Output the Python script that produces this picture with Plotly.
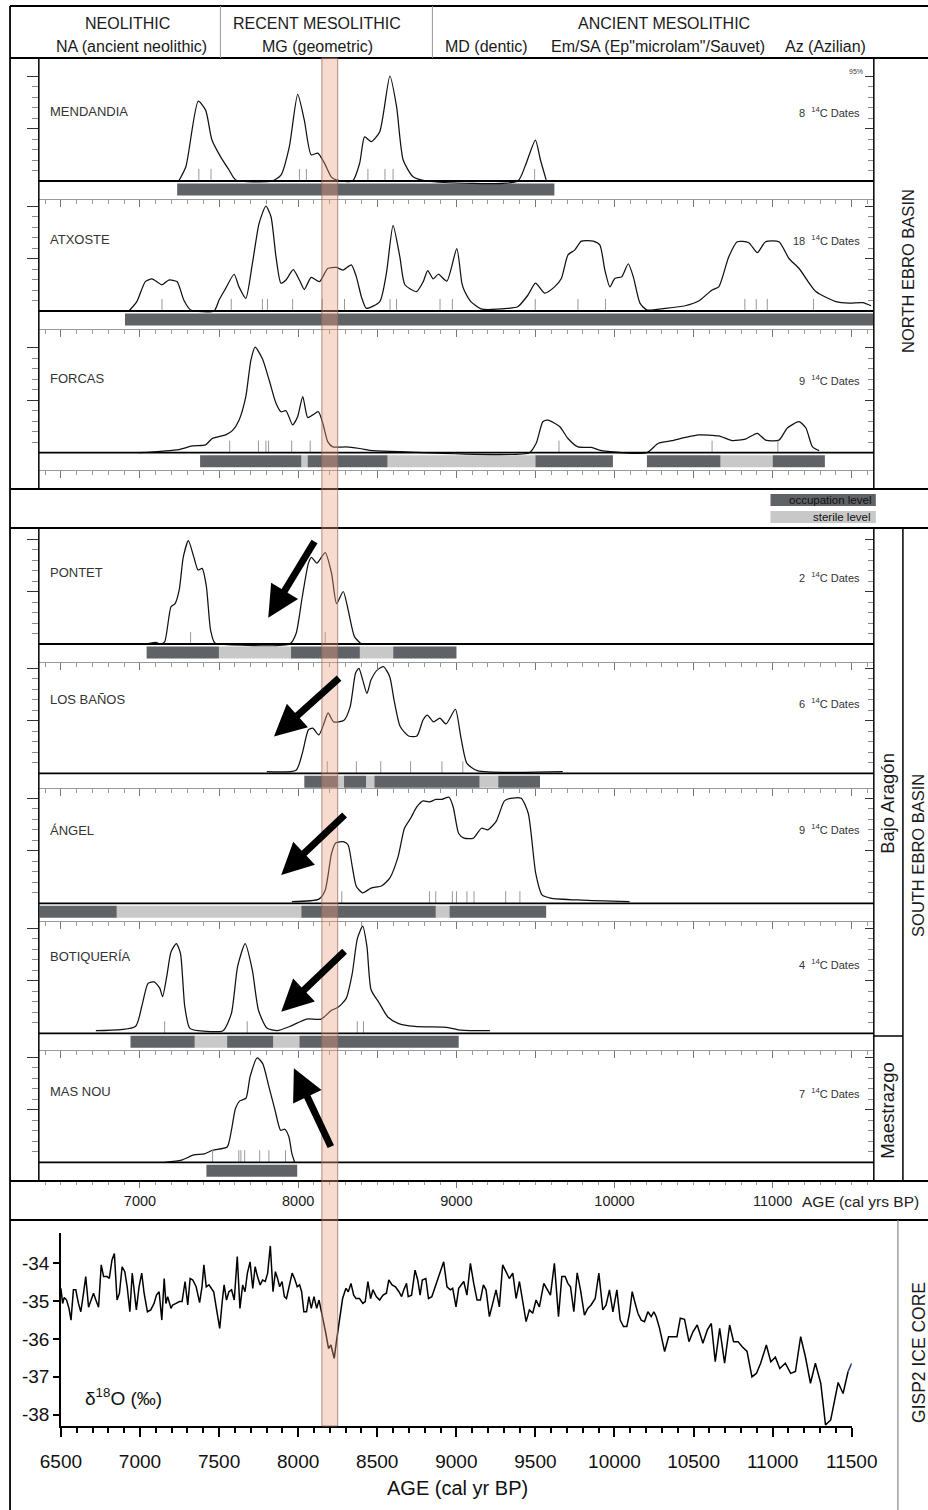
import plotly.graph_objects as go

# ======================= DATA =======================
SITES = ["MENDANDIA", "ATXOSTE", "FORCAS", "PONTET", "LOS BAÑOS", "ÁNGEL", "BOTIQUERÍA", "MAS NOU"]
N_DATES = [8, 18, 9, 2, 6, 9, 4, 7]

mendandia_age = [7245, 7290, 7368, 7415, 7455, 7510, 7563, 7605, 7836, 7891, 7944, 7997, 8039, 8082, 8124, 8166,
                 8209, 8241, 8344, 8389, 8420, 8463, 8516, 8580, 8622, 8664, 8727, 8813, 9388, 9437, 9500, 9532, 9568]
mendandia_prob = [0, 0.27, 1.52, 1.35, 0.78, 0.46, 0.21, 0.02, 0, 0.11, 0.65, 1.65, 1.16, 0.50, 0.53, 0.34,
                  0.08, 0.02, 0, 0.34, 0.84, 0.75, 0.94, 2.0, 1.42, 0.40, 0.08, 0, 0, 0.30, 0.78, 0.40, 0.02]
mendandia_dates = [7372, 7449, 8008, 8052, 8441, 8549, 8600, 9495]
mendandia_occ = [(7235, 9620)]
mendandia_ster = []

atxoste_age = [6930, 6980, 7034, 7076, 7139, 7182, 7234, 7277, 7320, 7468, 7500, 7542, 7595, 7626, 7669, 7711,
               7753, 7796, 7828, 7860, 7891, 7923, 7969, 8008, 8039, 8082, 8135, 8187, 8241, 8283, 8336, 8368,
               8400, 8431, 8516, 8558, 8600, 8643, 8675, 8749, 8791, 8819, 8854, 8886, 8940, 9003, 9035, 9049,
               9092, 9156, 9325, 9388, 9452, 9501, 9558, 9621, 9664, 9706, 9748, 9791, 9865, 9907, 9939, 9971,
               10002, 10045, 10087, 10119, 10161, 10204, 10320, 10447, 10532, 10617, 10659, 10722, 10776, 10849,
               10903, 10955, 11040, 11103, 11167, 11273, 11400, 11485, 11570, 11622]
atxoste_prob = [0, 0.18, 0.56, 0.61, 0.50, 0.59, 0.56, 0.21, 0.02, 0, 0.21, 0.43, 0.70, 0.46, 0.24, 0.91,
                1.67, 2.0, 1.80, 1.03, 0.53, 0.59, 0.79, 0.59, 0.41, 0.64, 0.56, 0.81, 0.83, 0.78, 0.88, 0.65,
                0.27, 0.05, 0.18, 0.72, 1.63, 1.03, 0.50, 0.37, 0.56, 0.77, 0.61, 0.70, 0.57, 1.19, 0.53, 0.40,
                0.18, 0.04, 0.05, 0.08, 0.30, 0.53, 0.34, 0.46, 0.62, 1.07, 1.16, 1.33, 1.33, 1.26, 0.78, 0.46,
                0.62, 0.65, 0.90, 0.65, 0.15, 0.02, 0.05, 0.10, 0.19, 0.40, 0.46, 1.03, 1.32, 1.30,
                1.11, 1.32, 1.32, 1.00, 0.81, 0.37, 0.18, 0.15, 0.16, 0.10]
atxoste_dates = [7139, 7577, 7774, 7806, 7965, 8152, 8293, 8581, 8622, 8897, 8975, 9499, 9769, 9943,
                 10824, 10896, 10966, 11258]
atxoste_occ = [(6905, 11635)]
atxoste_ster = []

forcas_age = [6990, 7245, 7330, 7415, 7457, 7542, 7584, 7626, 7669, 7701, 7728, 7774, 7817, 7860, 7891, 7923,
              7965, 7997, 8029, 8060, 8092, 8128, 8156, 8187, 8219, 8304, 8389, 8473, 8643, 9462, 9505, 9547,
              9579, 9653, 9706, 9769, 9854, 9918, 10204, 10277, 10363, 10447, 10532, 10659, 10744, 10828,
              10903, 10955, 11040, 11093, 11167, 11210, 11252, 11294]
forcas_prob = [0, 0.06, 0.13, 0.15, 0.27, 0.34, 0.42, 0.62, 1.07, 1.76, 2.01, 1.79, 1.38, 0.94, 0.78, 0.80,
               0.53, 0.69, 1.07, 0.67, 0.72, 0.78, 0.56, 0.21, 0.11, 0.11, 0.08, 0.04, 0.02, 0, 0.18, 0.59,
               0.62, 0.50, 0.27, 0.11, 0.10, 0.04, 0, 0.18, 0.23, 0.29, 0.34, 0.32, 0.23, 0.26,
               0.37, 0.24, 0.24, 0.47, 0.59, 0.47, 0.11, 0.04]
forcas_dates = [7567, 7749, 7796, 7813, 7959, 8076, 9649, 10617, 11033]
forcas_occ = [(7380, 8020), (8060, 8565), (9500, 9990), (10205, 10670), (11000, 11330)]
forcas_ster = [(8020, 8060), (8565, 9500), (10670, 11000)]

pontet_age = [7037, 7100, 7131, 7156, 7196, 7222, 7248, 7274, 7306, 7340, 7367, 7393, 7420, 7446, 7473, 7500,
              7947, 7987, 8026, 8065, 8084, 8118, 8171, 8211, 8243, 8285, 8316, 8356, 8395]
pontet_prob = [0, 0.03, 0, 0.04, 0.71, 0.77, 1.03, 1.66, 1.97, 1.66, 1.41, 1.44, 1.09, 0.27, 0.02, 0,
               0, 0.20, 0.90, 1.54, 1.65, 1.54, 1.74, 1.35, 0.77, 1.00, 0.65, 0.14, 0.01]
pontet_dates = [7320, 8171]
pontet_occ = [(7042, 7499), (7955, 8390), (8601, 9001)]
pontet_ster = [(7499, 7955), (8390, 8601)]

banos_age = [7802, 7987, 8026, 8065, 8092, 8131, 8163, 8189, 8224, 8290, 8329, 8363, 8384, 8408, 8435, 8461,
             8501, 8540, 8579, 8606, 8645, 8698, 8751, 8790, 8817, 8856, 8896, 8935, 8994, 9028, 9067, 9133, 9673]
banos_prob = [0.03, 0.06, 0.38, 0.83, 0.86, 0.73, 0.95, 1.15, 0.98, 1.01, 1.27, 1.91, 2.00, 1.78, 1.52, 1.78,
              1.97, 2.03, 1.84, 1.40, 0.89, 0.71, 0.71, 1.02, 1.11, 0.98, 1.05, 0.94, 1.22, 0.70, 0.19, 0.05, 0.03]
banos_dates = [8184, 8368, 8522, 8711, 8909, 9041]
banos_occ = [(8039, 8250), (8290, 8429), (8482, 9147), (9265, 9529)]
banos_ster = [(8250, 8290), (8429, 8482), (9147, 9265)]

angel_age = [7960, 8131, 8171, 8211, 8237, 8290, 8316, 8342, 8368, 8408, 8461, 8527, 8579, 8632, 8672, 8711,
             8751, 8790, 8830, 8870, 8909, 8954, 8980, 9015, 9049, 9107, 9159, 9199, 9252, 9304, 9344, 9410,
             9455, 9502, 9542, 9595, 9792, 10095]
angel_prob = [0.03, 0.08, 0.25, 0.95, 1.15, 1.17, 1.11, 0.70, 0.32, 0.20, 0.29, 0.33, 0.48, 0.89, 1.43, 1.62,
              1.84, 1.95, 1.93, 1.98, 1.98, 2.02, 1.84, 1.33, 1.24, 1.24, 1.43, 1.40, 1.56, 1.95, 2.00, 2.00,
              1.71, 0.57, 0.16, 0.10, 0.06, 0.03]
angel_dates = [8276, 8830, 8870, 8975, 9001, 9067, 9112, 9312, 9402]
angel_occ = [(6365, 6853), (8020, 8870), (8957, 9568)]
angel_ster = [(6853, 8020), (8870, 8957)]

botiq_age = [6721, 6971, 7011, 7051, 7090, 7125, 7143, 7169, 7196, 7230, 7256, 7283, 7314, 7367, 7525, 7578,
             7617, 7665, 7710, 7749, 7802, 7868, 7947, 8053, 8145, 8211, 8250, 8303, 8342, 8374, 8408, 8435,
             8461, 8514, 8567, 8632, 8738, 8948, 9028, 9212]
botiq_prob = [0.05, 0.13, 0.51, 0.95, 0.98, 0.86, 0.70, 1.08, 1.55, 1.71, 1.52, 0.51, 0.10, 0.05, 0.05, 0.38,
              1.27, 1.71, 1.21, 0.44, 0.10, 0.05, 0.13, 0.27, 0.27, 0.44, 0.49, 0.66, 1.14, 1.80, 2.04, 1.65,
              0.83, 0.57, 0.31, 0.19, 0.13, 0.11, 0.06, 0.05]
botiq_dates = [7156, 7678, 8374, 8413]
botiq_occ = [(6940, 7346), (7551, 7842), (8008, 9015)]
botiq_ster = [(7346, 7551), (7842, 8008)]

masnou_age = [7156, 7262, 7340, 7407, 7459, 7551, 7578, 7604, 7631, 7670, 7696, 7741, 7776, 7815, 7854, 7889,
              7915, 7941, 7960, 7978]
masnou_prob = [0, 0.04, 0.14, 0.16, 0.23, 0.29, 0.61, 1.03, 1.17, 1.22, 1.63, 1.99, 1.88, 1.44, 0.99, 0.61,
               0.63, 0.49, 0.17, 0]
masnou_dates = [7459, 7625, 7638, 7662, 7757, 7815, 7920]
masnou_occ = [(7420, 7994)]
masnou_ster = []

# GISP2 delta 18O
gisp2_age = [6500, 6511, 6521, 6536, 6551, 6564, 6579, 6594, 6611, 6626, 6643, 6657, 6675, 6692, 6706, 6721,
             6738, 6755, 6770, 6792, 6806, 6823, 6838, 6855, 6870, 6887, 6904, 6919, 6936, 6951, 6962, 6977,
             6994, 7011, 7026, 7047, 7068, 7089, 7104, 7121, 7138, 7153, 7164, 7175, 7196, 7206, 7228, 7249,
             7266, 7285, 7302, 7317, 7334, 7355, 7377, 7392, 7404, 7419, 7436, 7451, 7466, 7483, 7504, 7521,
             7532, 7547, 7562, 7579, 7596, 7615, 7632, 7649, 7664, 7679, 7696, 7713, 7728, 7743, 7760, 7775,
             7792, 7807, 7824, 7841, 7856, 7870, 7883, 7898, 7913, 7926, 7941, 7962, 7977, 7994, 8009, 8022,
             8036, 8053, 8068, 8083, 8100, 8117, 8132, 8147, 8160, 8175, 8192, 8207, 8228, 8243, 8260, 8281,
             8302, 8317, 8334, 8351, 8366, 8388, 8409, 8424, 8441, 8458, 8473, 8494, 8515, 8537, 8558, 8573,
             8594, 8615, 8637, 8654, 8668, 8685, 8696, 8717, 8739, 8756, 8771, 8785, 8807, 8824, 8845, 8866,
             8892, 8920, 8941, 8962, 8977, 8998, 9015, 9047, 9067, 9089, 9110, 9131, 9152, 9171, 9188, 9209,
             9230, 9251, 9272, 9293, 9314, 9335, 9357, 9378, 9399, 9420, 9441, 9462, 9483, 9504, 9525, 9553,
             9574, 9595, 9620, 9646, 9667, 9688, 9705, 9722, 9743, 9764, 9785, 9810, 9831, 9852, 9878, 9901,
             9926, 9947, 9968, 9990, 10015, 10036, 10057, 10078, 10095, 10112, 10131, 10148, 10169, 10190,
             10211, 10232, 10249, 10264, 10285, 10317, 10342, 10369, 10395, 10416, 10443, 10471, 10496, 10523,
             10559, 10587, 10612, 10637, 10665, 10696, 10728, 10753, 10781, 10806, 10838, 10869, 10897, 10924,
             10960, 10988, 11017, 11045, 11080, 11114, 11144, 11177, 11207, 11239, 11270, 11304, 11334, 11367,
             11414, 11445, 11477]
gisp2_d18o = [-34.66, -35.06, -34.90, -34.97, -35.19, -35.50, -34.70, -34.70, -35.06, -35.28, -34.79, -34.35,
              -35.16, -34.97, -34.79, -34.97, -35.16, -34.04, -34.35, -34.35, -34.40, -33.91, -33.74, -34.97,
              -34.79, -34.09, -34.22, -34.62, -35.28, -34.26, -34.62, -35.23, -34.62, -34.26, -34.79, -35.28,
              -35.23, -35.06, -34.84, -34.75, -35.50, -34.40, -35.06, -34.88, -35.19, -35.10, -35.06, -35.01,
              -35.01, -34.48, -35.10, -34.40, -34.44, -34.62, -35.04, -34.62, -34.04, -34.62, -34.57, -34.66,
              -34.75, -35.19, -35.72, -34.97, -34.57, -34.97, -34.75, -34.70, -34.97, -33.82, -35.19, -34.57,
              -34.75, -34.26, -33.96, -34.66, -34.09, -34.35, -34.57, -34.44, -34.48, -34.26, -33.54, -34.75,
              -34.22, -34.40, -34.62, -34.48, -34.88, -34.93, -34.62, -34.26, -34.40, -34.62, -34.57, -34.75,
              -35.28, -35.28, -34.88, -35.19, -34.88, -35.19, -34.97, -35.32, -35.54, -35.85, -36.25, -36.16,
              -36.51, -36.03, -35.50, -34.93, -34.66, -34.75, -34.53, -34.84, -34.93, -34.93, -35.06, -35.01,
              -34.48, -34.93, -34.70, -34.88, -34.97, -34.84, -34.79, -34.44, -34.57, -34.62, -34.75, -34.88,
              -34.70, -34.53, -34.88, -34.84, -34.18, -34.44, -34.84, -34.44, -34.40, -34.93, -34.88, -34.62,
              -34.26, -33.96, -34.62, -34.70, -34.66, -35.15, -34.66, -34.48, -34.84, -34.00, -34.53, -34.97,
              -34.97, -34.57, -34.70, -35.41, -35.06, -34.70, -35.15, -34.04, -34.22, -34.40, -34.26, -34.93,
              -34.48, -34.97, -35.54, -35.23, -35.32, -34.97, -35.15, -34.53, -34.70, -34.84, -34.00, -35.41,
              -34.35, -34.35, -34.53, -34.62, -35.28, -34.25, -34.70, -35.37, -35.19, -35.10, -34.93, -34.26,
              -35.23, -35.10, -34.70, -35.28, -34.70, -35.50, -35.67, -35.67, -35.32, -34.75, -35.06, -35.32,
              -35.50, -35.54, -35.28, -35.41, -35.28, -35.41, -35.72, -36.33, -35.94, -35.94, -35.94, -35.45,
              -35.48, -36.07, -35.81, -35.63, -36.11, -35.76, -35.59, -36.60, -35.72, -36.64, -35.63, -36.07,
              -36.07, -36.20, -36.33, -37.00, -36.91, -36.64, -36.16, -36.60, -36.48, -36.78, -36.64, -36.91,
              -36.86, -35.94, -36.47, -37.17, -36.64, -37.17, -38.27, -38.14, -37.15, -37.44, -36.86]
gisp2_tail_age = [11477, 11504]
gisp2_tail_d18o = [-36.86, -36.60]

PERIODS = ["NEOLITHIC", "RECENT MESOLITHIC", "ANCIENT MESOLITHIC"]
CULTURES = ["NA (ancient neolithic)", "MG (geometric)", "MD (dentic)",
            'Em/SA (Ep"microlam"/Sauvet)', "Az (Azilian)"]
EVENT_8200 = (8150, 8250)
UPPER_TICK_LABELS = [7000, 8000, 9000, 10000, 11000]
GISP2_YTICKS = [-34, -35, -36, -37, -38]
GISP2_XTICKS = [6500, 7000, 7500, 8000, 8500, 9000, 9500, 10000, 10500, 11000, 11500]

# arrows: (panel index, tail age, tail prob, head age, head prob)
ARROWS = [(4, 8109, 1.98, 7811, 0.50), (5, 8268, 1.84, 7847, 0.70), (6, 8303, 1.71, 7893, 0.54),
          (7, 8303, 1.59, 7893, 0.41), (8, 8211, 0.27, 7973, 1.79)]

panels = [
    (mendandia_age, mendandia_prob, mendandia_dates, mendandia_occ, mendandia_ster),
    (atxoste_age, atxoste_prob, atxoste_dates, atxoste_occ, atxoste_ster),
    (forcas_age, forcas_prob, forcas_dates, forcas_occ, forcas_ster),
    (pontet_age, pontet_prob, pontet_dates, pontet_occ, pontet_ster),
    (banos_age, banos_prob, banos_dates, banos_occ, banos_ster),
    (angel_age, angel_prob, angel_dates, angel_occ, angel_ster),
    (botiq_age, botiq_prob, botiq_dates, botiq_occ, botiq_ster),
    (masnou_age, masnou_prob, masnou_dates, masnou_occ, masnou_ster),
]

# ======================= LAYOUT GEOMETRY =======================
W, H = 928, 1510          # design coordinates (reference pixels)
FIG_W = 978               # rendered width (page is shown slightly compressed horizontally)
SHIFT = -23               # px shift of the plot div
FONT = "Liberation Sans, Arial, Helvetica, sans-serif"
DARK = "#5f6266"
LIGHT = "#c8c8c8"


def fx(p):
    return p / W


def fy(p):
    return 1 - p / H


PX_PER_YR = 0.15766
PX_6500 = 62.7


def age_at(p):
    return 6500 + (p - PX_6500) / PX_PER_YR


XL, XR = 40.7, 873.0
XRANGE = [age_at(XL), age_at(XR)]
UNIT = 52.5
GEOM = [(58, 181, 200, False), (200, 311, 330, True), (330, 452.7, 471, True),
        (528.3, 644, 663.3, False), (663.3, 773.3, 789.3, True), (789.3, 903.3, 921.7, True),
        (921.7, 1033.3, 1050.7, True), (1050.7, 1162.3, 1180.7, True)]
LABEL_Y = [112, 239, 379, 572, 700, 830, 957, 1091]
DATES_Y = [112, 240, 380, 577, 703, 829, 964, 1093]

fig = go.Figure()
layout = {}
shapes = []
ann = []


def axkey(kind, i):
    return f"{kind}axis" if i == 1 else f"{kind}axis{i}"


def axref(kind, i):
    return kind if i == 1 else f"{kind}{i}"


MINOR_Y = [0.2, 0.4, 0.6, 0.8, 1.2, 1.4, 1.6, 1.8]

for i, (ages, probs, dates, occ, ster) in enumerate(panels, start=1):
    top, base, bot, toprow = GEOM[i - 1]
    xs, ys = axref("x", i), axref("y", i)
    yr = [-(bot - base) / UNIT, (base - top) / UNIT]
    fig.add_trace(go.Scatter(x=ages, y=probs, xaxis=xs, yaxis=ys, mode="lines",
                             line=dict(color="#111111", width=1.25, shape="spline", smoothing=0.6),
                             hoverinfo="skip", showlegend=False))
    mx, my = [], []
    for d in dates:
        mx += [d, d, None]
        my += [0, 0.23, None]
    fig.add_trace(go.Scatter(x=mx, y=my, xaxis=xs, yaxis=ys, mode="lines",
                             line=dict(color="#8c8c8c", width=0.9), hoverinfo="skip", showlegend=False))
    b0, b1 = 2.5 / UNIT, 14.5 / UNIT
    for segs, col in ((ster, LIGHT), (occ, DARK)):
        if segs:
            fig.add_trace(go.Bar(x=[e - s for s, e in segs], base=[s for s, e in segs],
                                 y=[-(b0 + b1) / 2] * len(segs), orientation="h", width=b1 - b0,
                                 marker=dict(color=col, line=dict(width=0)), xaxis=xs, yaxis=ys,
                                 hoverinfo="skip", showlegend=False))
    fig.add_trace(go.Scatter(x=[XRANGE[0]], y=[0], xaxis=xs, yaxis=f"y{i + 10}", mode="markers",
                             marker=dict(opacity=0), hoverinfo="skip", showlegend=False))
    layout[axkey("x", i)] = dict(
        domain=[fx(XL), fx(XR)], range=XRANGE, anchor=ys, side="top", showgrid=False, zeroline=False,
        showticklabels=False, showline=toprow, linecolor="#9a9a9a", linewidth=0.8,
        ticks="inside" if toprow else "", tickmode="linear", tick0=6500, dtick=500, ticklen=7,
        tickcolor="#777", tickwidth=1,
        minor=dict(ticks="inside" if toprow else "", dtick=100, tick0=6500, ticklen=4, tickcolor="#999"),
        fixedrange=True)
    common_y = dict(range=yr, showgrid=False, zeroline=False, showticklabels=False, showline=False,
                    tickmode="array", tickvals=[1, 2], tickwidth=1, tickcolor="#333", fixedrange=True)
    layout[axkey("y", i)] = dict(domain=[fy(bot), fy(top)], anchor=xs, ticks="outside", ticklen=11,
                                 minor=dict(tickmode="array", tickvals=MINOR_Y, ticks="outside",
                                            ticklen=6, tickcolor="#8a8a8a", tickwidth=1),
                                 **common_y)
    layout[f"yaxis{i + 10}"] = dict(overlaying=ys, side="right", anchor=xs, ticks="inside", ticklen=9,
                                    minor=dict(tickmode="array", tickvals=MINOR_Y, ticks="inside",
                                               ticklen=6, tickcolor="#8a8a8a", tickwidth=1),
                                    **common_y)
    shapes.append(dict(type="line", xref="paper", yref="paper", x0=fx(XL), x1=fx(XR), y0=fy(base),
                       y1=fy(base), line=dict(color="black", width=1.8)))
    ann.append(dict(text=SITES[i - 1], x=fx(50), y=fy(LABEL_Y[i - 1]), xref="paper", yref="paper",
                    xanchor="left", yanchor="middle", showarrow=False,
                    font=dict(size=13, color="#333", family=FONT)))
    ann.append(dict(text=f"{N_DATES[i - 1]}  <sup>14</sup>C Dates", x=fx(861), y=fy(DATES_Y[i - 1]),
                    xref="paper", yref="paper", xanchor="right", yanchor="middle", showarrow=False,
                    font=dict(size=11, color="#333", family=FONT)))

fig.add_trace(go.Scatter(x=[XRANGE[0]], y=[0], xaxis="x9", yaxis="y9", mode="markers",
                         marker=dict(opacity=0), hoverinfo="skip", showlegend=False))
layout["xaxis9"] = dict(domain=[fx(XL), fx(XR)], range=XRANGE, anchor="y9", side="top", showgrid=False,
                        zeroline=False, showticklabels=False, showline=True, linecolor="#9a9a9a",
                        linewidth=0.8, ticks="inside", tickmode="linear", tick0=6500, dtick=500, ticklen=7,
                        tickcolor="#777", minor=dict(ticks="inside", dtick=100, tick0=6500, ticklen=4,
                                                     tickcolor="#999"), fixedrange=True)
layout["yaxis9"] = dict(domain=[fy(489), fy(471)], range=[0, 1], visible=False, fixedrange=True)

fig.add_trace(go.Scatter(x=[XRANGE[0]], y=[0], xaxis="x10", yaxis="y10", mode="markers",
                         marker=dict(opacity=0), hoverinfo="skip", showlegend=False))
layout["xaxis10"] = dict(domain=[fx(XL), fx(XR)], range=XRANGE, anchor="y10", side="bottom",
                         showgrid=False, zeroline=False, showline=False, ticks="outside", ticklen=6,
                         tickcolor="#777", tickmode="array", tickvals=UPPER_TICK_LABELS,
                         ticktext=[str(v) for v in UPPER_TICK_LABELS],
                         tickfont=dict(size=14.5, color="#222", family=FONT), ticklabelstandoff=1,
                         minor=dict(ticks="outside", dtick=100, tick0=6500, ticklen=3, tickcolor="#999"),
                         fixedrange=True)
layout["yaxis10"] = dict(domain=[fy(1181), fy(1178)], range=[0, 1], visible=False, fixedrange=True)
ann.append(dict(text="AGE (cal yrs BP)", x=fx(799), y=fy(1201), xref="paper", yref="paper",
                xanchor="left", yanchor="middle", showarrow=False,
                font=dict(size=15.5, color="#222", family=FONT)))

fig.add_trace(go.Scatter(x=gisp2_age, y=gisp2_d18o, xaxis="x20", yaxis="y20", mode="lines",
                         line=dict(color="black", width=1.5), hoverinfo="skip", showlegend=False))
fig.add_trace(go.Scatter(x=gisp2_tail_age, y=gisp2_tail_d18o, xaxis="x20", yaxis="y20", mode="lines",
                         line=dict(color="#223366", width=1.5, dash="dash"), hoverinfo="skip",
                         showlegend=False))
layout["xaxis20"] = dict(domain=[fx(62.7), fx(851.0)], range=[6500, 11500], anchor="y20",
                         showgrid=False, zeroline=False, showline=True, linecolor="black", linewidth=1.5,
                         ticks="outside", ticklen=9, tickwidth=1.5, tickcolor="black", tickmode="array",
                         tickvals=GISP2_XTICKS, ticktext=[str(v) for v in GISP2_XTICKS],
                         tickfont=dict(size=19, color="#111", family=FONT), ticklabelstandoff=8,
                         minor=dict(ticks="outside", dtick=100, tick0=6500, ticklen=5, tickwidth=1.5,
                                    tickcolor="black"), fixedrange=True)
layout["yaxis20"] = dict(domain=[fy(1426), fy(1232.7)], range=[-38.3, -33.19], anchor="x20",
                         showgrid=False, zeroline=False, showline=True, linecolor="black", linewidth=1.5,
                         ticks="outside", ticklen=6, tickwidth=1.5, tickcolor="black", tickmode="array",
                         tickvals=GISP2_YTICKS, ticktext=[f"-{abs(v)}" for v in GISP2_YTICKS],
                         tickfont=dict(size=19, color="#111", family=FONT), fixedrange=True)
ann.append(dict(text="δ<sup>18</sup>O (‰)", x=fx(85), y=fy(1397), xref="paper", yref="paper",
                xanchor="left", yanchor="middle", showarrow=False,
                font=dict(size=19, color="#111", family=FONT)))
ann.append(dict(text="AGE (cal yr BP)", x=fx(458), y=fy(1488), xref="paper", yref="paper",
                xanchor="center", yanchor="middle", showarrow=False,
                font=dict(size=20, color="#111", family=FONT)))

for (pi, ta, tv, ha, hv) in ARROWS:
    ann.append(dict(text="", x=ha, y=hv, ax=ta, ay=tv, xref=axref("x", pi), yref=axref("y", pi),
                    axref=axref("x", pi), ayref=axref("y", pi), showarrow=True, arrowhead=2,
                    arrowsize=0.9, arrowwidth=7, arrowcolor="black", standoff=0, startstandoff=0))

HEAD_X = [129, 318, 664]
for t, x in zip(PERIODS, HEAD_X):
    ann.append(dict(text=t, x=fx(x), y=fy(23), xref="paper", yref="paper", showarrow=False,
                    xanchor="center", yanchor="middle", font=dict(size=16, color="#1a1a1a", family=FONT)))
SUB_X = [133, 318, 487, 658, 825]
for t, x in zip(CULTURES, SUB_X):
    ann.append(dict(text=t, x=fx(x), y=fy(47), xref="paper", yref="paper", showarrow=False,
                    xanchor="center", yanchor="middle", font=dict(size=16, color="#1a1a1a", family=FONT)))
ann.append(dict(text="95%", x=fx(864), y=fy(72), xref="paper", yref="paper", showarrow=False,
                xanchor="right", yanchor="middle", font=dict(size=7, color="#444", family=FONT)))

for t, x, y, s in (("NORTH EBRO BASIN", 907, 271, 16.5), ("Bajo Aragón", 886, 803, 18.5),
                   ("SOUTH EBRO BASIN", 917, 855, 16.5), ("Maestrazgo", 886, 1110, 18.5),
                   ("GISP2 ICE CORE", 918, 1352, 17.5)):
    ann.append(dict(text=t, x=fx(x), y=fy(y), xref="paper", yref="paper", showarrow=False, textangle=-90,
                    xanchor="center", yanchor="middle", font=dict(size=s, color="#1a1a1a", family=FONT)))

shapes.append(dict(type="rect", xref="paper", yref="paper", x0=fx(770), x1=fx(875), y0=fy(506), y1=fy(494),
                   fillcolor=DARK, line=dict(width=0)))
shapes.append(dict(type="rect", xref="paper", yref="paper", x0=fx(770), x1=fx(875), y0=fy(523), y1=fy(511),
                   fillcolor=LIGHT, line=dict(width=0)))
ann.append(dict(text="occupation level", x=fx(872), y=fy(500), xref="paper", yref="paper", showarrow=False,
                xanchor="right", yanchor="middle", font=dict(size=11.5, color="#111", family=FONT)))
ann.append(dict(text="sterile level", x=fx(872), y=fy(517), xref="paper", yref="paper", showarrow=False,
                xanchor="right", yanchor="middle", font=dict(size=11.5, color="#111", family=FONT)))


def hline(y, x0, x1, w=1.8, c="black"):
    shapes.append(dict(type="line", xref="paper", yref="paper", x0=fx(x0), x1=fx(x1), y0=fy(y), y1=fy(y),
                       line=dict(color=c, width=w)))


def vline(x, y0, y1, w=1.8, c="black"):
    shapes.append(dict(type="line", xref="paper", yref="paper", x0=fx(x), x1=fx(x), y0=fy(y0), y1=fy(y1),
                       line=dict(color=c, width=w)))


hline(6, 12, 928)
hline(58, 12, 928)
hline(489, 12, 928)
hline(528, 12, 928)
hline(1181, 12, 928)
hline(1220, 12, 928)
vline(12, 6, 1510)
vline(221.7, 6, 58, 1, "#999")
vline(433, 6, 58, 1, "#999")
vline(XL, 58, 489, 1.5)
vline(XL, 528, 1181, 1.5)
vline(XR, 58, 489, 1.5)
vline(XR, 528, 1181, 1.5)
vline(902, 528, 1181, 1.5)
hline(1036, XR, 902, 1.5)
vline(897, 1220, 1510, 1.2, "#888")

shapes.append(dict(type="rect", xref="x", yref="paper", x0=EVENT_8200[0], x1=EVENT_8200[1],
                   y0=fy(1426), y1=fy(58), fillcolor="rgba(236,160,130,0.38)",
                   line=dict(color="rgba(150,105,95,0.75)", width=1), layer="above"))

layout.update(dict(width=FIG_W, height=H, autosize=False, margin=dict(l=0, r=0, t=0, b=0),
                   paper_bgcolor="white", plot_bgcolor="rgba(0,0,0,0)", showlegend=False,
                   barmode="overlay", font=dict(family=FONT, color="#222"), shapes=shapes,
                   annotations=ann))
fig.update_layout(**layout)

PAGE_FIX = ("document.documentElement.style.margin='0';document.documentElement.style.padding='0';"
            "document.documentElement.style.overflow='hidden';"
            "document.body.style.margin='0';document.body.style.padding='0';"
            "document.body.style.overflow='hidden';"
            "var g=document.querySelector('.plotly-graph-div');"
            "if(g){g.style.marginLeft='%dpx';}" % SHIFT)
fig.write_html("out.html", include_plotlyjs=True, full_html=True,
               config={"responsive": False, "displayModeBar": False}, post_script=PAGE_FIX)
